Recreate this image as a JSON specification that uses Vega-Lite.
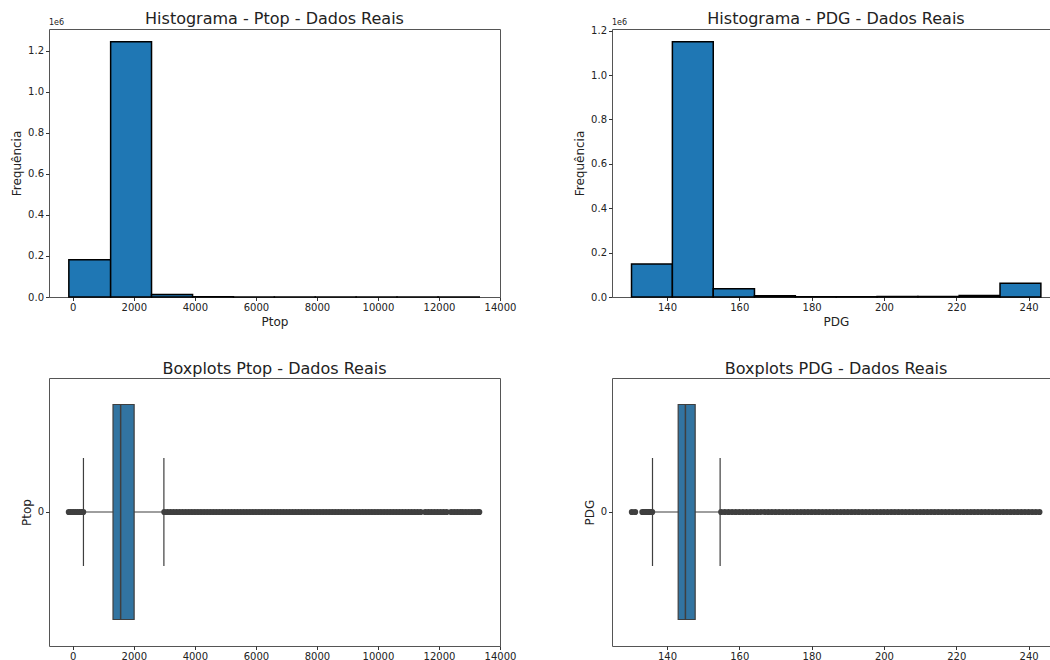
{
  "$schema": "https://vega.github.io/schema/vega-lite/v6.json",
  "background": "white",
  "padding": {"left": 10, "top": 10, "right": 0, "bottom": 0},
  "config": {
    "font": "DejaVu Sans",
    "view": {"stroke": "#555", "strokeWidth": 1},
    "axis": {"domain": false, "grid": false, "ticks": true, "tickSize": 3.5, "tickColor": "#333", "labelFontSize": 10, "labelColor": "#222", "titleFontSize": 12, "titleFontWeight": "normal", "titleColor": "#222", "labelPadding": 2, "titlePadding": 4, "labelOverlap": false, "labelFlush": false},
    "title": {"fontSize": 16, "fontWeight": "normal", "color": "#222", "offset": 1},
    "point": {"shape": "circle"}
  },
  "datasets": {
    "histPtop": [
      {"lo": -130, "hi": 1240, "n": 181000},
      {"lo": 1240, "hi": 2580, "n": 1244000},
      {"lo": 2580, "hi": 3925, "n": 12000},
      {"lo": 3925, "hi": 5265, "n": 1500},
      {"lo": 5265, "hi": 6605, "n": 600},
      {"lo": 6605, "hi": 7945, "n": 300},
      {"lo": 7945, "hi": 9285, "n": 150},
      {"lo": 9285, "hi": 10625, "n": 80},
      {"lo": 10625, "hi": 11970, "n": 40},
      {"lo": 11970, "hi": 13320, "n": 30}
    ],
    "histPDG": [
      {"lo": 130.2, "hi": 141.5, "n": 149000},
      {"lo": 141.5, "hi": 152.8, "n": 1150000},
      {"lo": 152.8, "hi": 164.2, "n": 37000},
      {"lo": 164.2, "hi": 175.5, "n": 5500},
      {"lo": 175.5, "hi": 186.8, "n": 1500},
      {"lo": 186.8, "hi": 198.1, "n": 1500},
      {"lo": 198.1, "hi": 209.4, "n": 2500},
      {"lo": 209.4, "hi": 220.8, "n": 2500},
      {"lo": 220.8, "hi": 232.1, "n": 7000},
      {"lo": 232.1, "hi": 243.4, "n": 62000}
    ],
    "boxPtop": [{"c": "0", "wlo": 349, "q1": 1318, "med": 1568, "q3": 2010, "whi": 2985}],
    "boxPDG": [{"c": "0", "wlo": 136.0, "q1": 143.1, "med": 145.1, "q3": 147.8, "whi": 154.7}],
    "outPtop": [
      {"v": -130, "c": "0"}, {"v": -60, "c": "0"}, {"v": 10, "c": "0"}, {"v": 80, "c": "0"}, {"v": 150, "c": "0"}, {"v": 220, "c": "0"}, {"v": 290, "c": "0"}, {"v": 340, "c": "0"},
      {"v": 3000, "c": "0"}, {"v": 3100, "c": "0"}, {"v": 3200, "c": "0"}, {"v": 3300, "c": "0"}, {"v": 3400, "c": "0"}, {"v": 3500, "c": "0"}, {"v": 3600, "c": "0"}, {"v": 3700, "c": "0"}, {"v": 3800, "c": "0"}, {"v": 3900, "c": "0"},
      {"v": 4000, "c": "0"}, {"v": 4100, "c": "0"}, {"v": 4200, "c": "0"}, {"v": 4300, "c": "0"}, {"v": 4400, "c": "0"}, {"v": 4500, "c": "0"}, {"v": 4600, "c": "0"}, {"v": 4700, "c": "0"}, {"v": 4800, "c": "0"}, {"v": 4900, "c": "0"},
      {"v": 5000, "c": "0"}, {"v": 5100, "c": "0"}, {"v": 5200, "c": "0"}, {"v": 5300, "c": "0"}, {"v": 5400, "c": "0"}, {"v": 5500, "c": "0"}, {"v": 5600, "c": "0"}, {"v": 5700, "c": "0"}, {"v": 5800, "c": "0"}, {"v": 5900, "c": "0"},
      {"v": 6000, "c": "0"}, {"v": 6100, "c": "0"}, {"v": 6200, "c": "0"}, {"v": 6300, "c": "0"}, {"v": 6400, "c": "0"}, {"v": 6500, "c": "0"}, {"v": 6600, "c": "0"}, {"v": 6700, "c": "0"}, {"v": 6800, "c": "0"}, {"v": 6900, "c": "0"},
      {"v": 7000, "c": "0"}, {"v": 7100, "c": "0"}, {"v": 7200, "c": "0"}, {"v": 7300, "c": "0"}, {"v": 7400, "c": "0"}, {"v": 7500, "c": "0"}, {"v": 7600, "c": "0"}, {"v": 7700, "c": "0"}, {"v": 7800, "c": "0"}, {"v": 7900, "c": "0"},
      {"v": 8000, "c": "0"}, {"v": 8100, "c": "0"}, {"v": 8200, "c": "0"}, {"v": 8300, "c": "0"}, {"v": 8400, "c": "0"}, {"v": 8500, "c": "0"}, {"v": 8600, "c": "0"}, {"v": 8700, "c": "0"}, {"v": 8800, "c": "0"}, {"v": 8900, "c": "0"},
      {"v": 9000, "c": "0"}, {"v": 9100, "c": "0"}, {"v": 9200, "c": "0"}, {"v": 9300, "c": "0"}, {"v": 9400, "c": "0"}, {"v": 9500, "c": "0"}, {"v": 9600, "c": "0"}, {"v": 9700, "c": "0"}, {"v": 9800, "c": "0"}, {"v": 9900, "c": "0"},
      {"v": 10000, "c": "0"}, {"v": 10100, "c": "0"}, {"v": 10200, "c": "0"}, {"v": 10300, "c": "0"}, {"v": 10400, "c": "0"}, {"v": 10500, "c": "0"}, {"v": 10600, "c": "0"}, {"v": 10700, "c": "0"}, {"v": 10800, "c": "0"}, {"v": 10900, "c": "0"},
      {"v": 11000, "c": "0"}, {"v": 11100, "c": "0"}, {"v": 11200, "c": "0"}, {"v": 11300, "c": "0"}, {"v": 11400, "c": "0"},
      {"v": 11550, "c": "0"}, {"v": 11650, "c": "0"}, {"v": 11750, "c": "0"}, {"v": 11850, "c": "0"}, {"v": 11950, "c": "0"}, {"v": 12050, "c": "0"}, {"v": 12150, "c": "0"}, {"v": 12250, "c": "0"},
      {"v": 12400, "c": "0"}, {"v": 12500, "c": "0"}, {"v": 12600, "c": "0"}, {"v": 12700, "c": "0"}, {"v": 12780, "c": "0"},
      {"v": 12880, "c": "0"}, {"v": 12980, "c": "0"}, {"v": 13080, "c": "0"}, {"v": 13180, "c": "0"}, {"v": 13280, "c": "0"}, {"v": 13320, "c": "0"}
    ],
    "outPDG": [
      {"v": 130.3, "c": "0"}, {"v": 131.2, "c": "0"}, {"v": 133.2, "c": "0"}, {"v": 133.6, "c": "0"}, {"v": 134.0, "c": "0"}, {"v": 134.4, "c": "0"}, {"v": 134.8, "c": "0"}, {"v": 135.2, "c": "0"}, {"v": 135.6, "c": "0"}, {"v": 135.9, "c": "0"},
      {"v": 155, "c": "0"}, {"v": 156, "c": "0"}, {"v": 157, "c": "0"}, {"v": 158, "c": "0"}, {"v": 159, "c": "0"}, {"v": 160, "c": "0"}, {"v": 161, "c": "0"}, {"v": 162, "c": "0"}, {"v": 163, "c": "0"}, {"v": 164, "c": "0"},
      {"v": 165, "c": "0"}, {"v": 166, "c": "0"}, {"v": 167, "c": "0"}, {"v": 168, "c": "0"}, {"v": 169, "c": "0"}, {"v": 170, "c": "0"}, {"v": 171, "c": "0"}, {"v": 172, "c": "0"}, {"v": 173, "c": "0"}, {"v": 174, "c": "0"},
      {"v": 175, "c": "0"}, {"v": 176, "c": "0"}, {"v": 177, "c": "0"}, {"v": 178, "c": "0"}, {"v": 179, "c": "0"}, {"v": 180, "c": "0"}, {"v": 181, "c": "0"}, {"v": 182, "c": "0"}, {"v": 183, "c": "0"}, {"v": 184, "c": "0"},
      {"v": 185, "c": "0"}, {"v": 186, "c": "0"}, {"v": 187, "c": "0"}, {"v": 188, "c": "0"}, {"v": 189, "c": "0"}, {"v": 190, "c": "0"}, {"v": 191, "c": "0"}, {"v": 192, "c": "0"}, {"v": 193, "c": "0"}, {"v": 194, "c": "0"},
      {"v": 195, "c": "0"}, {"v": 196, "c": "0"}, {"v": 197, "c": "0"}, {"v": 198, "c": "0"}, {"v": 199, "c": "0"}, {"v": 200, "c": "0"}, {"v": 201, "c": "0"}, {"v": 202, "c": "0"}, {"v": 203, "c": "0"}, {"v": 204, "c": "0"},
      {"v": 205, "c": "0"}, {"v": 206, "c": "0"}, {"v": 207, "c": "0"}, {"v": 208, "c": "0"}, {"v": 209, "c": "0"}, {"v": 210, "c": "0"}, {"v": 211, "c": "0"}, {"v": 212, "c": "0"}, {"v": 213, "c": "0"}, {"v": 214, "c": "0"},
      {"v": 215, "c": "0"}, {"v": 216, "c": "0"}, {"v": 217, "c": "0"}, {"v": 218, "c": "0"}, {"v": 219, "c": "0"}, {"v": 220, "c": "0"}, {"v": 221, "c": "0"}, {"v": 222, "c": "0"}, {"v": 223, "c": "0"}, {"v": 224, "c": "0"},
      {"v": 225, "c": "0"}, {"v": 226, "c": "0"}, {"v": 227, "c": "0"}, {"v": 228, "c": "0"}, {"v": 229, "c": "0"}, {"v": 230, "c": "0"}, {"v": 231, "c": "0"}, {"v": 232, "c": "0"}, {"v": 233, "c": "0"}, {"v": 234, "c": "0"},
      {"v": 235, "c": "0"}, {"v": 236, "c": "0"}, {"v": 237, "c": "0"}, {"v": 238, "c": "0"}, {"v": 239, "c": "0"}, {"v": 240, "c": "0"}, {"v": 241, "c": "0"}, {"v": 242, "c": "0"}, {"v": 243, "c": "0"}
    ]
  },
  "columns": 2,
  "bounds": "flush",
  "spacing": {"row": 81, "column": 112},
  "concat": [
    {
      "width": 451, "height": 268,
      "title": {"text": "Histograma - Ptop - Dados Reais", "offset": -8},
      "layer": [
        {
          "data": {"name": "histPtop"},
          "mark": {"type": "bar", "fill": "#1f77b4", "stroke": "#000", "strokeWidth": 1.5},
          "encoding": {
            "x": {"field": "lo", "type": "quantitative", "scale": {"domain": [-780, 14000], "nice": false, "zero": false}, "axis": {"title": "Ptop", "values": [0, 2000, 4000, 6000, 8000, 10000, 12000, 14000], "format": "d"}},
            "x2": {"field": "hi"},
            "y": {"field": "n", "type": "quantitative", "scale": {"domain": [0, 1306000], "nice": false}, "axis": {"title": "Frequência", "values": [0, 200000, 400000, 600000, 800000, 1000000, 1200000], "labelExpr": "format(datum.value / 1000000, '.1f')"}},
            "y2": {"datum": 0}
          }
        },
        {
          "data": {"values": [{"t": "1e6"}]},
          "mark": {"type": "text", "align": "left", "baseline": "bottom", "dy": -2, "fontSize": 8, "color": "#222"},
          "encoding": {"x": {"datum": -780}, "y": {"datum": 1306000}, "text": {"field": "t"}}
        }
      ]
    },
    {
      "width": 439, "height": 268,
      "title": {"text": "Histograma - PDG - Dados Reais", "dx": 4.5, "offset": -8},
      "layer": [
        {
          "data": {"name": "histPDG"},
          "mark": {"type": "bar", "fill": "#1f77b4", "stroke": "#000", "strokeWidth": 1.5},
          "encoding": {
            "x": {"field": "lo", "type": "quantitative", "scale": {"domain": [124.8, 246.2], "nice": false, "zero": false}, "axis": {"title": "PDG", "values": [140, 160, 180, 200, 220, 240], "titleX": 224}},
            "x2": {"field": "hi"},
            "y": {"field": "n", "type": "quantitative", "scale": {"domain": [0, 1207500], "nice": false}, "axis": {"title": "Frequência", "values": [0, 200000, 400000, 600000, 800000, 1000000, 1200000], "labelExpr": "format(datum.value / 1000000, '.1f')"}},
            "y2": {"datum": 0}
          }
        },
        {
          "data": {"values": [{"t": "1e6"}]},
          "mark": {"type": "text", "align": "left", "baseline": "bottom", "dy": -2, "fontSize": 8, "color": "#222"},
          "encoding": {"x": {"datum": 124.8}, "y": {"datum": 1207500}, "text": {"field": "t"}}
        }
      ]
    },
    {
      "width": 451, "height": 268,
      "title": "Boxplots Ptop - Dados Reais",
      "layer": [
        {
          "data": {"name": "boxPtop"},
          "mark": {"type": "rule", "color": "#3f3f3f", "strokeWidth": 1.2},
          "encoding": {
            "x": {"field": "wlo", "type": "quantitative", "scale": {"domain": [-780, 14000], "nice": false, "zero": false}, "axis": {"title": null, "values": [0, 2000, 4000, 6000, 8000, 10000, 12000, 14000], "format": "d"}},
            "x2": {"field": "whi"},
            "y": {"field": "c", "type": "nominal", "scale": {"paddingInner": 0, "paddingOuter": 0}, "axis": {"title": "Ptop", "labelAngle": 0}}
          }
        },
        {
          "data": {"name": "boxPtop"},
          "mark": {"type": "bar", "fill": "#3274a1", "stroke": "#3f3f3f", "strokeWidth": 1.2, "size": 215},
          "encoding": {"x": {"field": "q1", "type": "quantitative"}, "x2": {"field": "q3"}, "y": {"field": "c", "type": "nominal"}}
        },
        {
          "data": {"name": "boxPtop"},
          "mark": {"type": "tick", "color": "#3f3f3f", "thickness": 1.5, "size": 215, "opacity": 1},
          "encoding": {"x": {"field": "med", "type": "quantitative"}, "y": {"field": "c", "type": "nominal"}}
        },
        {
          "data": {"name": "boxPtop"},
          "mark": {"type": "tick", "color": "#3f3f3f", "thickness": 1.2, "size": 108, "opacity": 1},
          "encoding": {"x": {"field": "wlo", "type": "quantitative"}, "y": {"field": "c", "type": "nominal"}}
        },
        {
          "data": {"name": "boxPtop"},
          "mark": {"type": "tick", "color": "#3f3f3f", "thickness": 1.2, "size": 108, "opacity": 1},
          "encoding": {"x": {"field": "whi", "type": "quantitative"}, "y": {"field": "c", "type": "nominal"}}
        },
        {
          "data": {"name": "outPtop"},
          "mark": {"type": "point", "filled": true, "color": "#3f3f3f", "size": 38, "opacity": 1},
          "encoding": {"x": {"field": "v", "type": "quantitative"}, "y": {"field": "c", "type": "nominal"}}
        }
      ]
    },
    {
      "width": 439, "height": 268,
      "title": {"text": "Boxplots PDG - Dados Reais", "dx": 4.5},
      "layer": [
        {
          "data": {"name": "boxPDG"},
          "mark": {"type": "rule", "color": "#3f3f3f", "strokeWidth": 1.2},
          "encoding": {
            "x": {"field": "wlo", "type": "quantitative", "scale": {"domain": [124.8, 246.2], "nice": false, "zero": false}, "axis": {"title": null, "values": [140, 160, 180, 200, 220, 240]}},
            "x2": {"field": "whi"},
            "y": {"field": "c", "type": "nominal", "scale": {"paddingInner": 0, "paddingOuter": 0}, "axis": {"title": "PDG", "labelAngle": 0}}
          }
        },
        {
          "data": {"name": "boxPDG"},
          "mark": {"type": "bar", "fill": "#3274a1", "stroke": "#3f3f3f", "strokeWidth": 1.2, "size": 215},
          "encoding": {"x": {"field": "q1", "type": "quantitative"}, "x2": {"field": "q3"}, "y": {"field": "c", "type": "nominal"}}
        },
        {
          "data": {"name": "boxPDG"},
          "mark": {"type": "tick", "color": "#3f3f3f", "thickness": 1.5, "size": 215, "opacity": 1},
          "encoding": {"x": {"field": "med", "type": "quantitative"}, "y": {"field": "c", "type": "nominal"}}
        },
        {
          "data": {"name": "boxPDG"},
          "mark": {"type": "tick", "color": "#3f3f3f", "thickness": 1.2, "size": 108, "opacity": 1},
          "encoding": {"x": {"field": "wlo", "type": "quantitative"}, "y": {"field": "c", "type": "nominal"}}
        },
        {
          "data": {"name": "boxPDG"},
          "mark": {"type": "tick", "color": "#3f3f3f", "thickness": 1.2, "size": 108, "opacity": 1},
          "encoding": {"x": {"field": "whi", "type": "quantitative"}, "y": {"field": "c", "type": "nominal"}}
        },
        {
          "data": {"name": "outPDG"},
          "mark": {"type": "point", "filled": true, "color": "#3f3f3f", "size": 38, "opacity": 1},
          "encoding": {"x": {"field": "v", "type": "quantitative"}, "y": {"field": "c", "type": "nominal"}}
        }
      ]
    }
  ]
}
